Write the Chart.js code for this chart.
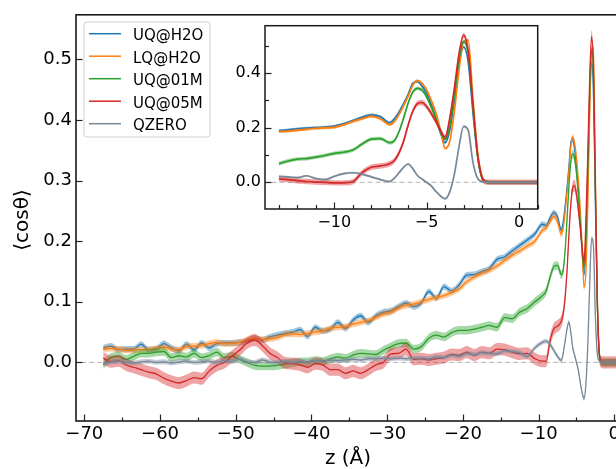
<!DOCTYPE html>
<html><head><meta charset="utf-8">
<script src="https://cdn.jsdelivr.net/npm/chart.js@4/dist/chart.umd.min.js"></script>
<style>
html,body{margin:0;padding:0;background:#fff;overflow:hidden;}
#wrap{position:relative;width:616px;height:469px;overflow:hidden;background:#fff;}
#main{position:absolute;left:0;top:0;}
#inset{position:absolute;left:225px;top:0;}
</style></head><body>
<div id="wrap"><canvas id="main" width="630" height="469"></canvas><canvas id="inset" width="320" height="240"></canvas></div>
<script>
// ---------------- DATA ----------------
const seriesNames = ['UQ@H2O','LQ@H2O','UQ@01M','UQ@05M','QZERO'];

// main panel, coarse part (z from -67.5 to -9.5, Å)
const mainZ = [-67.5,-66.5,-65.5,-64.5,-63.5,-62.5,-61.5,-60.5,-59.5,-58.5,-57.5,-56.5,-55.5,-54.5,-53.5,-52.5,-51.5,-50.5,
  -49.5,-48.5,-47.5,-46.5,-45.5,-44.5,-43.5,-42.5,-41.5,-40.5,-39.5,-38.5,-37.5,-36.5,-35.5,-34.5,-33.5,-32.5,
  -31.5,-30.5,-29.5,-28.5,-27.5,-26.5,-25.5,-24.5,-23.5,-22.5,-21.5,-20.5,-19.5,-18.5,-17.5,-16.5,
  -15.5,-14.5,-13.5,-12.5,-11.5,-10.5,-9.5];
const mainUQH2O = [.024,.027,.021,.022,.022,.030,.021,.022,.031,.024,.019,.030,.021,.032,.024,.031,.032,.032,
  .033,.035,.040,.037,.042,.045,.048,.050,.054,.043,.058,.052,.055,.066,.056,.070,.077,.066,
  .077,.083,.085,.092,.098,.092,.098,.117,.106,.125,.118,.128,.144,.145,.150,.155,
  .170,.174,.184,.193,.202,.212,.228];
const mainLQH2O = [.022,.023,.022,.020,.020,.021,.021,.023,.025,.022,.021,.026,.027,.028,.031,.033,.031,.031,
  .033,.037,.040,.038,.039,.041,.046,.047,.046,.048,.050,.052,.056,.058,.059,.063,.066,.069,
  .074,.080,.083,.090,.094,.096,.100,.104,.107,.110,.115,.121,.133,.141,.147,.152,
  .159,.168,.177,.184,.192,.200,.218];
const mainUQ01M = [-.004,.008,.010,.005,.010,.015,.015,.017,.018,.008,.011,.009,.015,.008,.011,.017,.008,.010,
  .005,.000,-.005,-.006,-.006,-.005,-.003,-.001,.001,.001,.003,.002,.006,.009,.007,.012,.015,.014,
  .013,.020,.026,.031,.032,.022,.026,.040,.045,.042,.049,.053,.053,.055,.058,.061,
  .058,.074,.072,.083,.089,.100,.110];
const mainUQ05M = [.007,.001,.003,-.004,-.008,-.012,-.016,-.019,-.026,-.031,-.034,-.030,-.025,-.027,-.014,-.005,.000,.010,
  .020,.032,.037,.028,.015,.008,-.001,-.002,-.004,-.008,-.002,-.004,-.012,-.012,-.018,-.014,-.018,-.012,
  -.004,.000,.014,.015,.022,.005,.006,.004,.006,.008,.013,.012,.017,.012,.017,.015,
  .022,.021,.017,.014,.015,.006,.002];
const mainQZERO = [-.002,.000,.002,.000,-.001,.001,.002,.000,.001,-.001,.001,.002,.000,.001,.002,.000,.003,.001,
  .006,.001,.000,.004,.001,.000,.002,.000,.002,.001,.003,.002,.004,.003,.004,.005,.004,.006,
  .006,.007,.006,.007,.006,.007,.007,.006,.009,.008,.012,.010,.015,.013,.016,.015,
  .014,.019,.018,.016,.010,.024,.033];

// inset panel (smoothed profile, z from -13 to 1 Å); also used by the main panel for z >= -9
const insetZ = [-13,-12.5,-12,-11.5,-11,-10.5,-10,-9.5,-9,-8.5,-8,-7.5,-7,-6.75,-6.5,-6.25,-6,-5.75,-5.5,-5.25,-5,
  -4.75,-4.5,-4.25,-4,-3.75,-3.5,-3.25,-3,-2.75,-2.5,-2.25,-2,-1.75,-1.5,-1,-0.5,0,0.5,1];
const insetUQH2O = [.189,.192,.196,.198,.200,.202,.206,.214,.226,.238,.247,.240,.218,.232,.257,.288,.322,.362,.368,.352,.325,
  .285,.235,.180,.145,.190,.300,.430,.495,.440,.260,.100,.015,.001,0,0,0,0,0,0];
const insetLQH2O = [.185,.187,.190,.194,.197,.199,.201,.210,.222,.232,.241,.232,.211,.222,.248,.280,.315,.355,.372,.362,.338,
  .300,.255,.190,.124,.150,.260,.410,.515,.520,.310,.115,.020,.002,0,0,0,0,0,0];
const insetUQ01M = [.068,.078,.085,.087,.092,.098,.106,.110,.118,.140,.158,.160,.145,.152,.185,.235,.290,.330,.344,.337,.312,
  .275,.232,.185,.158,.205,.320,.450,.515,.470,.280,.100,.015,.001,0,0,0,0,0,0];
const insetUQ05M = [.013,.010,.006,.003,.001,.000,-.002,-.002,.002,.035,.055,.060,.068,.080,.107,.150,.210,.260,.288,.292,.277,
  .252,.222,.190,.165,.235,.345,.470,.538,.480,.290,.105,.018,.001,0,0,0,0,0,0];
const insetQZERO = [.022,.020,.017,.024,.014,.010,.022,.032,.035,.030,.020,.010,.003,.015,.035,.055,.067,.050,.025,.012,.000,
  -.013,-.033,-.050,-.060,-.035,.030,.130,.205,.190,.075,.015,.003,0,0,0,0,0,0,0];

// half-width of the shaded uncertainty band of each series
const bandHalf = [0.005, 0.005, 0.007, 0.010, 0.004];

// ticks
const mainXTicks = [-70,-60,-50,-40,-30,-20,-10,0];
const mainXMinor = [-65,-55,-45,-35,-25,-15,-5];
const mainYTicks = [0.0,0.1,0.2,0.3,0.4,0.5];
const insetXTicks = [-10,-5,0];
const insetXMinor = [-13,-12,-11,-9,-8,-7,-6,-4,-3,-2,-1,1];
const insetYTicks = [0.0,0.2,0.4];
const insetYMinor = [0.1,0.3,0.5];

// ---------------- STYLE ----------------
const colors = ['#1f77b4','#ff7f0e','#2ca02c','#d62728','#778899'];
const FONT = 'DejaVu Sans';
function rgba(hex, a){const n=parseInt(hex.slice(1),16);return `rgba(${n>>16&255},${n>>8&255},${n&255},${a})`;}
function fmtNum(v){return v<0?'\u2212'+Math.abs(v):String(v);}

function buildSets(zs, lists, lw){
  const sets=[];
  sets.push({data:[{x:-100,y:0},{x:20,y:0}],borderColor:'#b5b5b5',borderWidth:1,borderDash:[5,3],pointRadius:0,fill:false,order:90});
  lists.forEach((vals,k)=>{
    const pts=d=>zs.map((z,i)=>({x:z,y:vals[i]+d}));
    const e=bandHalf[k], ord=50-2*k, c=colors[k];
    const common={pointRadius:0,cubicInterpolationMode:'monotone'};
    sets.push(Object.assign({data:pts(e),borderWidth:0,backgroundColor:rgba(c,0.42),fill:'+1',order:ord},common));
    sets.push(Object.assign({data:pts(-e),borderWidth:0,fill:false,order:ord},common));
    sets.push(Object.assign({data:pts(0),borderColor:c,borderWidth:lw,fill:false,order:ord-1},common));
  });
  return sets;
}

const frameTicks={
  id:'frameTicks',
  beforeDatasetsDraw(chart,args,o){
    if(!o.bg)return;
    const {ctx,chartArea:a}=chart;ctx.save();ctx.fillStyle='#fff';ctx.fillRect(a.left,a.top,a.right-a.left,a.bottom-a.top);ctx.restore();
  },
  afterDatasetsDraw(chart,args,o){
    const {ctx,chartArea:a,scales:{x,y}}=chart;
    ctx.save();ctx.strokeStyle='#222';ctx.lineWidth=1.2;
    const tx=(vals,len)=>vals.forEach(v=>{const p=Math.round(x.getPixelForValue(v))+0.5;ctx.beginPath();ctx.moveTo(p,a.bottom);ctx.lineTo(p,a.bottom-len);ctx.stroke();});
    const ty=(vals,len)=>vals.forEach(v=>{const p=Math.round(y.getPixelForValue(v))+0.5;ctx.beginPath();ctx.moveTo(a.left,p);ctx.lineTo(a.left+len,p);ctx.stroke();});
    tx(o.xMajor,o.major);tx(o.xMinor,o.minor);ty(o.yMajor,o.major);ty(o.yMinor,o.minor);
    ctx.lineWidth=o.frameW;ctx.strokeStyle='#1a1a1a';
    ctx.strokeRect(a.left,a.top,a.right-a.left,a.bottom-a.top);
    ctx.restore();
  }
};

const mainDecor={
  id:'mainDecor',
  afterDraw(chart){
    const ctx=chart.ctx;ctx.save();
    // legend
    const bx=84,by=22,bw=126,bh=115,r=3;
    ctx.beginPath();ctx.moveTo(bx+r,by);ctx.arcTo(bx+bw,by,bx+bw,by+bh,r);ctx.arcTo(bx+bw,by+bh,bx,by+bh,r);
    ctx.arcTo(bx,by+bh,bx,by,r);ctx.arcTo(bx,by,bx+bw,by,r);ctx.closePath();
    ctx.fillStyle='rgba(255,255,255,0.85)';ctx.fill();ctx.strokeStyle='#d0d0d0';ctx.lineWidth=1;ctx.stroke();
    ctx.font=`15px "${FONT}"`;ctx.textBaseline='alphabetic';ctx.textAlign='left';
    seriesNames.forEach((n,i)=>{
      const yy=33.7+i*22.5;
      ctx.strokeStyle=colors[i];ctx.lineWidth=1.5;ctx.beginPath();ctx.moveTo(89,yy);ctx.lineTo(121,yy);ctx.stroke();
      ctx.fillStyle='#000';ctx.fillText(n,133,yy+6.3);
    });
    // axis titles
    ctx.font=`20px "${FONT}"`;ctx.fillStyle='#000';ctx.textAlign='center';
    ctx.fillText('z (\u00C5)',348,464);
    ctx.translate(23,220);ctx.rotate(-Math.PI/2);ctx.textBaseline='middle';ctx.fillText('\u27E8cos\u03B8\u27E9',0,0);
    ctx.restore();
  }
};

function axisOpts(min,max,ticks,fmt,size,pad,fit){
  return {type:'linear',min,max,grid:{display:false,drawTicks:false},border:{display:false},
    afterBuildTicks:s=>{s.ticks=ticks.map(v=>({value:v}));},
    afterFit:fit,
    ticks:{font:{family:FONT,size},color:'#000',padding:pad,maxRotation:0,autoSkip:false,includeBounds:false,callback:fmt}};
}

// main chart
const mainSets = buildSets(
  mainZ.concat(insetZ.filter(z=>z>=-9)),
  [mainUQH2O,mainLQH2O,mainUQ01M,mainUQ05M,mainQZERO].map((m,k)=>{
    const iv=[insetUQH2O,insetLQH2O,insetUQ01M,insetUQ05M,insetQZERO][k];
    return m.concat(iv.filter((_,i)=>insetZ[i]>=-9));
  }), 1.3);

new Chart(document.getElementById('main'),{
  type:'line',
  data:{datasets:mainSets},
  options:{responsive:false,animation:false,devicePixelRatio:1,
    layout:{padding:{top:14,right:10,left:0,bottom:0}},
    plugins:{legend:{display:false},tooltip:{enabled:false},
      frameTicks:{xMajor:mainXTicks,xMinor:mainXMinor,yMajor:mainYTicks,yMinor:[],major:6.5,minor:3.5,frameW:1.6,bg:false}},
    scales:{
      x:axisOpts(-71.1,0.75,mainXTicks,v=>fmtNum(v),18,3,s=>{s.height=48;}),
      y:axisOpts(-0.0967,0.5736,mainYTicks,v=>v.toFixed(1),18,4,s=>{s.width=76;})
    }},
  plugins:[frameTicks,mainDecor]
});

// inset chart
const insetSets = buildSets(insetZ,[insetUQH2O,insetLQH2O,insetUQ01M,insetUQ05M,insetQZERO],1.7);
new Chart(document.getElementById('inset'),{
  type:'line',
  data:{datasets:insetSets},
  options:{responsive:false,animation:false,devicePixelRatio:1,
    layout:{padding:{top:25.7,right:7.3,left:0,bottom:0}},
    plugins:{legend:{display:false},tooltip:{enabled:false},
      frameTicks:{xMajor:insetXTicks,xMinor:insetXMinor,yMajor:insetYTicks,yMinor:insetYMinor,major:6.5,minor:4,frameW:1.5,bg:true}},
    scales:{
      x:axisOpts(-13.75,1.01,insetXTicks,v=>fmtNum(v),16,4,s=>{s.height=31;}),
      y:axisOpts(-0.0976,0.573,insetYTicks,v=>v.toFixed(1),16,4,s=>{s.width=40;})
    }},
  plugins:[frameTicks]
});
</script>
</body></html>
